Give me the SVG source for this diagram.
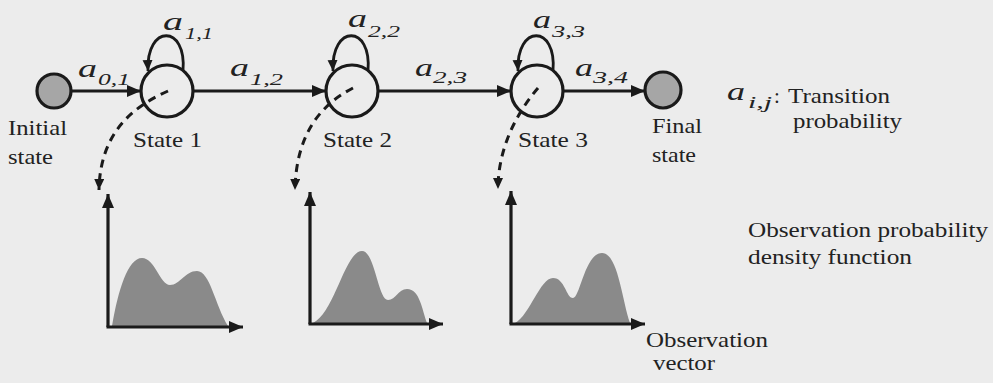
<svg xmlns="http://www.w3.org/2000/svg" width="993" height="383" viewBox="0 0 993 383">
<defs>
<marker id="ah" markerUnits="userSpaceOnUse" markerWidth="16" markerHeight="14" refX="14" refY="6" orient="auto">
<path d="M0,0 L14,6 L0,12 Z" fill="#1a1a1a"/>
</marker>
<marker id="ahs" markerUnits="userSpaceOnUse" markerWidth="14" markerHeight="12" refX="11" refY="5" orient="auto">
<path d="M0,0 L11,5 L0,10 Z" fill="#1a1a1a"/>
</marker>
<style>
.bg{fill:#ececec}
.st{fill:none;stroke:#1a1a1a;stroke-width:3.2}
.term{fill:#a6a6a6;stroke:#1a1a1a;stroke-width:3.2}
.ln{fill:none;stroke:#1a1a1a;stroke-width:2.8}
.dash{fill:none;stroke:#1a1a1a;stroke-width:3;stroke-dasharray:8 6}
.ax{fill:none;stroke:#1a1a1a;stroke-width:3.2}
.pdf{fill:#8a8a8a}
text{font-family:Liberation Serif, Times New Roman, DejaVu Serif, serif}
.t{font-size:21px;fill:#222}
.a{font-style:italic;font-size:26px;fill:#222}
.s{font-style:italic;font-size:16px;fill:#222}
</style>
</defs>
<rect class="bg" x="0" y="0" width="993" height="383"/>

<g id="connectors">
<path class="ln" d="M71,91 L141,91" marker-end="url(#ah)"/>
<path class="ln" d="M193,91 L326,91" marker-end="url(#ah)"/>
<path class="ln" d="M378,91 L511,91" marker-end="url(#ah)"/>
<path class="ln" d="M563,91 L645,91" marker-end="url(#ah)"/>
<path class="ln" d="M183,71 C187,24 146,24 148,71" marker-end="url(#ahs)"/>
<path class="ln" d="M368,71 C372,24 331,24 333,71" marker-end="url(#ahs)"/>
<path class="ln" d="M553,71 C557,24 516,24 518,71" marker-end="url(#ahs)"/>
<path class="dash" d="M168,91 C130,108 100,135 99,190" marker-end="url(#ahs)"/>
<path class="dash" d="M353,88 C320,105 296,135 295,190" marker-end="url(#ahs)"/>
<path class="dash" d="M538,88 C515,115 498,150 498,189" marker-end="url(#ahs)"/>
</g>

<g id="labels">
<text class="a" x="78" y="77" textLength="19" lengthAdjust="spacingAndGlyphs">a</text>
<text class="s" x="98" y="85" textLength="32" lengthAdjust="spacingAndGlyphs">0,1</text>
<text class="a" x="163" y="30" textLength="20" lengthAdjust="spacingAndGlyphs">a</text>
<text class="s" x="185" y="39" textLength="28" lengthAdjust="spacingAndGlyphs">1,1</text>
<text class="a" x="230" y="76" textLength="19" lengthAdjust="spacingAndGlyphs">a</text>
<text class="s" x="250" y="85" textLength="33" lengthAdjust="spacingAndGlyphs">1,2</text>
<text class="a" x="348" y="27" textLength="19" lengthAdjust="spacingAndGlyphs">a</text>
<text class="s" x="368" y="37" textLength="32" lengthAdjust="spacingAndGlyphs">2,2</text>
<text class="a" x="415" y="76" textLength="18" lengthAdjust="spacingAndGlyphs">a</text>
<text class="s" x="433" y="83" textLength="34" lengthAdjust="spacingAndGlyphs">2,3</text>
<text class="a" x="533" y="28" textLength="18" lengthAdjust="spacingAndGlyphs">a</text>
<text class="s" x="552" y="37" textLength="33" lengthAdjust="spacingAndGlyphs">3,3</text>
<text class="a" x="575" y="76" textLength="18" lengthAdjust="spacingAndGlyphs">a</text>
<text class="s" x="593" y="83" textLength="35" lengthAdjust="spacingAndGlyphs">3,4</text>
</g>

<g id="initial">
<circle class="term" cx="54" cy="91" r="17"/>
<text class="t" x="8" y="135" textLength="59" lengthAdjust="spacingAndGlyphs">Initial</text>
<text class="t" x="8" y="164" textLength="45" lengthAdjust="spacingAndGlyphs">state</text>
</g>
<g id="state1">
<circle class="st" cx="167" cy="91" r="26"/>
<text class="t" x="133" y="147" textLength="69" lengthAdjust="spacingAndGlyphs">State 1</text>
</g>
<g id="state2">
<circle class="st" cx="352" cy="91" r="26"/>
<text class="t" x="323" y="147" textLength="69" lengthAdjust="spacingAndGlyphs">State 2</text>
</g>
<g id="state3">
<circle class="st" cx="537" cy="91" r="26"/>
<text class="t" x="518" y="147" textLength="70" lengthAdjust="spacingAndGlyphs">State 3</text>
</g>
<g id="final">
<circle class="term" cx="663" cy="90" r="18"/>
<text class="t" x="652" y="133" textLength="50" lengthAdjust="spacingAndGlyphs">Final</text>
<text class="t" x="652" y="162" textLength="44" lengthAdjust="spacingAndGlyphs">state</text>
</g>

<g id="legend">
<text class="a" x="727" y="100" textLength="18" lengthAdjust="spacingAndGlyphs">a</text>
<text class="s" x="748" y="108" textLength="24" lengthAdjust="spacingAndGlyphs">i,j</text>
<text class="t" x="774" y="103">:</text>
<text class="t" x="788" y="103" textLength="102" lengthAdjust="spacingAndGlyphs">Transition</text>
<text class="t" x="793" y="128" textLength="109" lengthAdjust="spacingAndGlyphs">probability</text>
<text class="t" x="748" y="237" textLength="240" lengthAdjust="spacingAndGlyphs">Observation probability</text>
<text class="t" x="748" y="264" textLength="164" lengthAdjust="spacingAndGlyphs">density function</text>
</g>

<g id="pdf1">
<path class="pdf" d="M112,326 C118,290 128,258 142,258 C155,258 160,285 170,285 C180,285 185,271 197,271 C210,271 215,305 228,326 Z"/>
<path class="ax" d="M108,327 L108,194" marker-end="url(#ah)"/>
<path class="ax" d="M106.5,327 L243,327" marker-end="url(#ah)"/>
</g>
<g id="pdf2">
<path class="pdf" d="M313,323 C335,312 345,251 362,251 C375,251 378,300 388,300 C396,300 398,289 407,289 C420,289 422,310 427,323 Z"/>
<path class="ax" d="M310,324 L310,192" marker-end="url(#ah)"/>
<path class="ax" d="M308.5,324 L443,324" marker-end="url(#ah)"/>
</g>
<g id="pdf3">
<path class="pdf" d="M515,323 C530,315 540,278 553,278 C565,278 566,298 573,298 C580,298 585,253 602,253 C618,253 622,300 630,323 Z"/>
<path class="ax" d="M511,324 L511,191" marker-end="url(#ah)"/>
<path class="ax" d="M509.5,324 L645,324" marker-end="url(#ah)"/>
<text class="t" x="646" y="347" textLength="122" lengthAdjust="spacingAndGlyphs">Observation</text>
<text class="t" x="653" y="370" textLength="62" lengthAdjust="spacingAndGlyphs">vector</text>
</g>
</svg>
